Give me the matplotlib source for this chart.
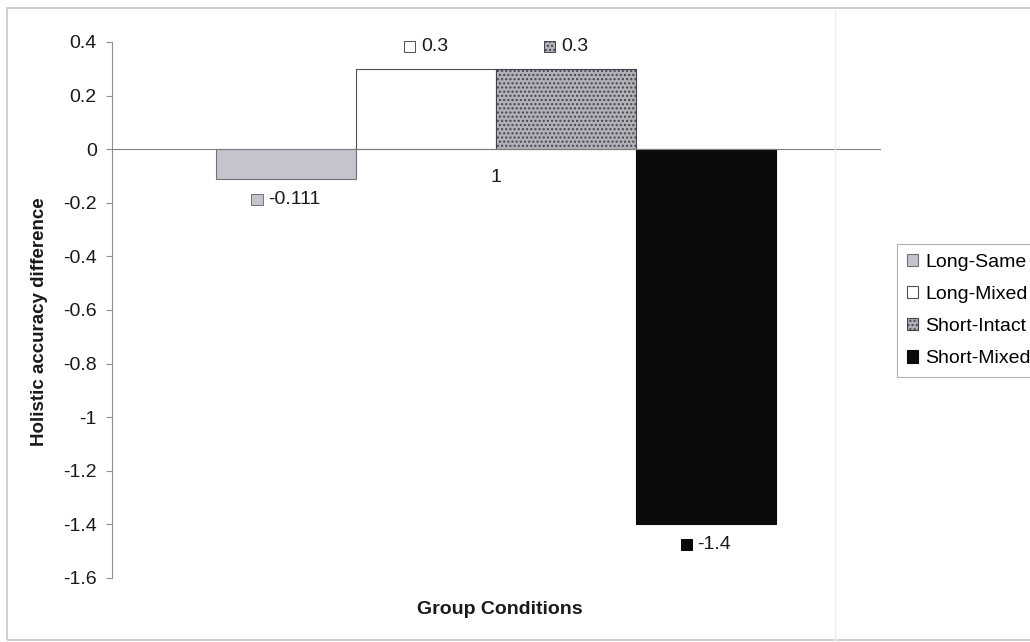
import matplotlib
matplotlib.use("Agg")
import matplotlib.pyplot as plt
from matplotlib.patches import Rectangle
from matplotlib.offsetbox import HPacker, DrawingArea, TextArea, AnnotationBbox
from matplotlib.lines import Line2D

# ---- data ----
categories = ["1"]
series_names = ["Long-Same", "Long-Mixed", "Short-Intact", "Short-Mixed"]
series_values = [-0.111, 0.3, 0.3, -1.4]
value_labels = ["-0.111", "0.3", "0.3", "-1.4"]
yticks = [0.4, 0.2, 0, -0.2, -0.4, -0.6, -0.8, -1, -1.2, -1.4, -1.6]
ytick_labels = ["0.4", "0.2", "0", "-0.2", "-0.4", "-0.6", "-0.8", "-1", "-1.2", "-1.4", "-1.6"]

# ---- styles ----
faces = ["#c4c4cc", "#ffffff", "#b0b0b8", "#0a0a0a"]
edges = ["#707078", "#505050", "#44444c", "#0a0a0a"]
hatches = [None, None, "....", None]
FS = 14

plt.rcParams["font.family"] = ["Liberation Sans", "DejaVu Sans"]

fig = plt.figure(figsize=(10.30, 6.42), dpi=100)
ax = fig.add_axes([112/1030, 1 - 578/642, 768/1030, 536/642])

# outer chart frame and faint page line
fig.patches.append(Rectangle((7/1030, 2/642), 1.2, 1 - 10/642, transform=fig.transFigure,
                             fill=False, edgecolor="#c8c8c8", linewidth=1.2))
fig.add_artist(Line2D([835/1030, 835/1030], [2/642, 1 - 10/642], transform=fig.transFigure,
                      color="#ececec", linewidth=1.0))

n = len(series_names)
width = 140/768
group_w = width * n
x0 = 1 - group_w/2 + width/2
handles = []
for i, (name, val) in enumerate(zip(series_names, series_values)):
    xpos = x0 + i*width
    b = ax.bar(xpos, val, width=width, color=faces[i], edgecolor=edges[i],
               linewidth=0.8, hatch=hatches[i], label=name, zorder=2)
    handles.append(b)
    # data label with legend key
    da = DrawingArea(8, 8, 0, 0)
    da.add_artist(Rectangle((0, 0), 8, 8, facecolor=faces[i], edgecolor=edges[i],
                            linewidth=0.7, hatch=hatches[i]))
    ta = TextArea(value_labels[i], textprops=dict(fontsize=FS, color="#1a1a1a"))
    pack = HPacker(children=[da, ta], align="center", pad=0, sep=4)
    off = 16 if val > 0 else -14.5
    ab = AnnotationBbox(pack, (xpos, val), xybox=(0, off), xycoords="data",
                        boxcoords="offset points", frameon=False,
                        box_alignment=(0.5, 0.5))
    ax.add_artist(ab)

ax.set_xlim(0.5, 1.5)
ax.set_ylim(-1.6, 0.4)
ax.set_yticks(yticks)
ax.set_yticklabels(ytick_labels)
ax.set_xticks([1])
ax.set_xticklabels(categories)

for s in ["top", "right"]:
    ax.spines[s].set_visible(False)
ax.spines["bottom"].set_position(("data", 0))
ax.spines["bottom"].set_color("#808080")
ax.spines["bottom"].set_linewidth(0.8)
ax.spines["left"].set_color("#909090")
ax.spines["left"].set_linewidth(0.8)
ax.tick_params(axis="y", direction="out", length=4, width=0.8, color="#909090",
               labelsize=FS, labelcolor="#1a1a1a", pad=7)
ax.tick_params(axis="x", length=0, labelsize=FS, labelcolor="#1a1a1a", pad=14)

fig.text(40/1030, 1 - 322/642, "Holistic accuracy difference", rotation=90,
         ha="center", va="center", fontsize=13.5, fontweight="bold", color="#1a1a1a")
fig.text(500/1030, 1 - 610/642, "Group Conditions", ha="center", va="center",
         fontsize=14, fontweight="bold", color="#1a1a1a")

leg = fig.legend(handles=handles, labels=series_names, loc="upper left",
                 bbox_to_anchor=(897/1030, 1 - 244/642), fontsize=FS,
                 handlelength=0.6, handleheight=0.6, handletextpad=0.35,
                 labelspacing=0.78, borderpad=0.5, borderaxespad=0,
                 frameon=True, fancybox=False, edgecolor="#a0a0a0")
leg.get_frame().set_linewidth(0.8)

fig.savefig("out.png", dpi=100)
